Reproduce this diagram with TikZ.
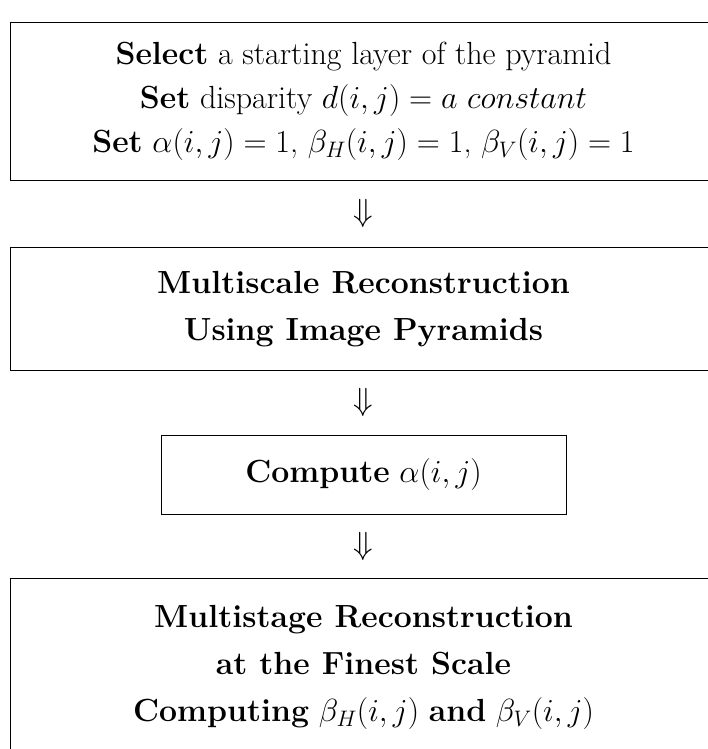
\RequirePackage{fix-cm}
\documentclass[tikz,border=0pt]{standalone}
\usepackage{amsmath}
\usetikzlibrary{positioning}
\tikzset{
  stagebox/.style={draw, line width=0.9pt, align=center, inner sep=0pt,
    minimum width=707pt, font=\fontsize{32}{47}\selectfont},
  flowarrow/.style={inner sep=0pt, font=\fontsize{32}{36}\selectfont}
}

\begin{document}
\begin{tikzpicture}[x=1pt,y=1pt]
  \useasboundingbox (0,0) rectangle (708,-749);
  \clip (0,0) rectangle (708,-749);
  \node[stagebox, minimum height=158pt, anchor=north, font=\fontsize{32}{44}\selectfont] (init) at (363.5,-22)
    {\textbf{Select} a starting layer of the pyramid\\
     \textbf{Set} disparity $d(i,j) = a\ constant$\\
     \textbf{Set} $\alpha(i,j)=1$, $\beta_H(i,j)=1$, $\beta_V(i,j)=1$};
  \node[stagebox, minimum height=123pt, anchor=north] (multiscale) at (363.5,-247)
    {\textbf{Multiscale Reconstruction}\\
     \textbf{Using Image Pyramids}};
  \node[stagebox, minimum width=405pt, minimum height=79pt, anchor=north] (alpha) at (363.5,-435)
    {\textbf{Compute} $\alpha(i,j)$};
  \node[stagebox, minimum height=178pt, anchor=north] (multistage) at (363.5,-578)
    {\textbf{Multistage Reconstruction}\\
     \textbf{at the Finest Scale}\\
     \textbf{Computing} $\beta_H(i,j)$ \textbf{and} $\beta_V(i,j)$};

  \path (init) -- node[flowarrow] (down1) {$\Downarrow$} (multiscale);
  \path (multiscale) -- node[flowarrow] (down2) {$\Downarrow$} (alpha);
  \path (alpha) -- node[flowarrow] (down3) {$\Downarrow$} (multistage);
\end{tikzpicture}
\end{document}
